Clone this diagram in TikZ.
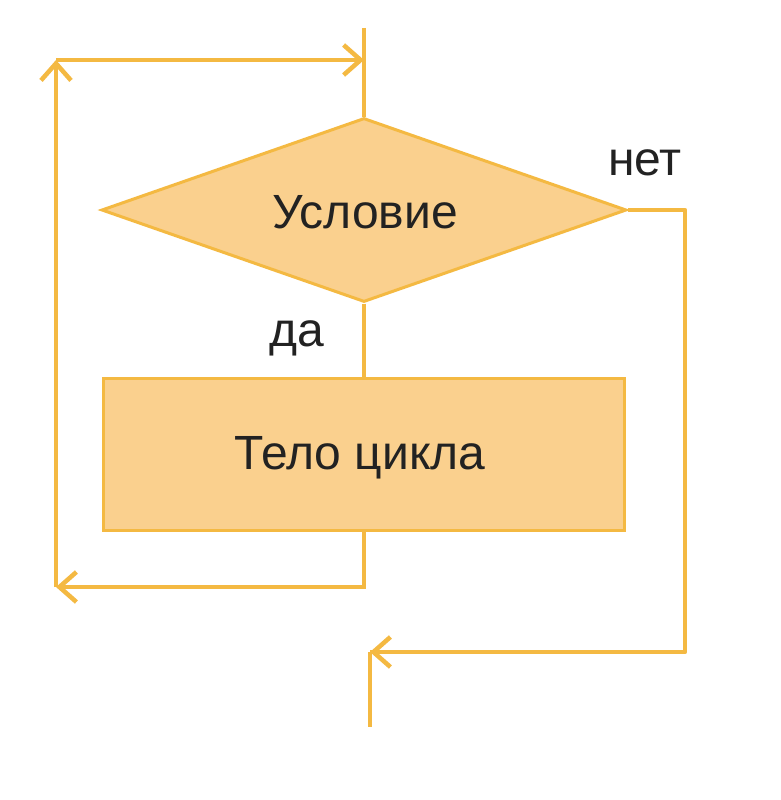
\documentclass[tikz,border=0pt]{standalone}
\usepackage{fontspec}
\setmainfont{Liberation Sans}
\usetikzlibrary{shapes.geometric,arrows.meta}
\definecolor{lineor}{HTML}{F4B942}
\definecolor{fillor}{HTML}{FAD08E}
\definecolor{txt}{HTML}{222222}
\tikzset{
  flow/.style={draw=lineor, line width=4.5pt},
  arr/.style={flow, -{Straight Barb[length=17pt,width=30pt,line width=4.5pt]}},
  lbl/.style={text=txt, font=\fontsize{48}{57}\selectfont, inner sep=0pt},
  condbox/.style={diamond, draw=lineor, fill=fillor, line width=3pt, inner sep=0pt, aspect=2.85, minimum width=525pt, minimum height=184pt, lbl},
  bodybox/.style={rectangle, draw=lineor, fill=fillor, line width=3pt, minimum width=521pt, minimum height=152pt}
}
\begin{document}
\begin{tikzpicture}[x=1pt,y=-1pt]
\useasboundingbox[fill=white] (0,0) rectangle (780,800);
\node[condbox] (cond) at (364,210) {};
\node[bodybox] (body) at (364,454) {};
\node[lbl] (condtext) at (365,212) {Условие};
\node[lbl] (bodytext) at (360,458) {Тело цикла};
\coordinate (start) at (364,28);
\coordinate (lb) at (56,587);
\coordinate (lt) at (56,60);
\coordinate (ltend) at (364,60);
\coordinate (rt) at (685,210);
\coordinate (rb) at (685,652);
\coordinate (ex) at (370,652);
\coordinate (exend) at (370,727);
\draw[flow] (start) -- (cond.north);
\draw[flow] (cond.south) -- (body.north);
\draw[arr] (body.south) |- (lb);
\draw[arr] (lb) -- (lt);
\draw[arr] (lt) -- (ltend);
\draw[flow, line join=round] (cond.east) -- (rt) -- (rb) -- (ex);
\draw[arr] (rb) -- (ex);
\draw[flow] (ex) -- (exend);
\node[lbl] (yes) at (297,338) {да};
\node[lbl] (no) at (645,163) {нет};
\end{tikzpicture}
\end{document}
